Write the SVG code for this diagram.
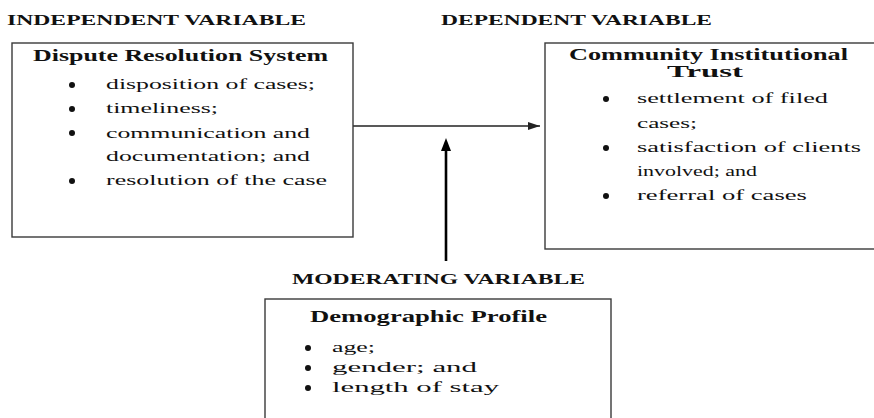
<svg xmlns="http://www.w3.org/2000/svg" width="874" height="418" viewBox="0 0 874 418">
<style>
.box{fill:#fff;stroke:#3a3a3a;stroke-width:1.4}
.hd{font-family:"Liberation Serif","Times New Roman",serif;font-weight:bold;font-size:14px;fill:#111}
.tt{font-family:"Liberation Serif","Times New Roman",serif;font-weight:bold;font-size:16px;fill:#111}
.tx{font-family:"Liberation Serif","Times New Roman",serif;font-size:15.5px;fill:#111}
.bl{fill:#111}
</style>
<defs>
<marker id="ah" markerWidth="12" markerHeight="8" refX="12" refY="4" orient="auto" markerUnits="userSpaceOnUse">
<path d="M0,0 L12,4 L0,8 Z" fill="#222"/>
</marker>
</defs>
<rect width="874" height="418" fill="#fff"/>
<text class="hd" x="7" y="25" textLength="299" lengthAdjust="spacingAndGlyphs">INDEPENDENT VARIABLE</text>
<text class="hd" x="441" y="25" textLength="271" lengthAdjust="spacingAndGlyphs">DEPENDENT VARIABLE</text>
<text class="hd" x="292" y="284" textLength="293" lengthAdjust="spacingAndGlyphs">MODERATING VARIABLE</text>

<g id="connectors">
<line x1="353" y1="126" x2="540" y2="126" stroke="#222" stroke-width="1.4" marker-end="url(#ah)"/>
<line x1="446" y1="261" x2="446" y2="150" stroke="#000" stroke-width="2.6"/>
<path d="M446,138 L451,151 L441,151 Z" fill="#000"/>
</g>

<g id="independent">
<rect class="box" x="12" y="43" width="341" height="194"/>
<text class="tt" x="33" y="61" textLength="295" lengthAdjust="spacingAndGlyphs">Dispute Resolution System</text>
<circle class="bl" cx="72" cy="85" r="3"/>
<text class="tx" x="106" y="89" textLength="209" lengthAdjust="spacingAndGlyphs">disposition of cases;</text>
<circle class="bl" cx="72" cy="109" r="3"/>
<text class="tx" x="106" y="113" textLength="112" lengthAdjust="spacingAndGlyphs">timeliness;</text>
<circle class="bl" cx="72" cy="133" r="3"/>
<text class="tx" x="106" y="138" textLength="204" lengthAdjust="spacingAndGlyphs">communication and</text>
<text class="tx" x="106" y="161" textLength="204" lengthAdjust="spacingAndGlyphs">documentation; and</text>
<circle class="bl" cx="72" cy="181" r="3"/>
<text class="tx" x="106" y="185" textLength="221" lengthAdjust="spacingAndGlyphs">resolution of the case</text>
</g>

<g id="dependent">
<rect class="box" x="545" y="43" width="340" height="206"/>
<text class="tt" x="569" y="60" textLength="279" lengthAdjust="spacingAndGlyphs">Community Institutional</text>
<text class="tt" x="667" y="77" textLength="76" lengthAdjust="spacingAndGlyphs">Trust</text>
<circle class="bl" cx="606" cy="99" r="3"/>
<text class="tx" x="637" y="103" textLength="191" lengthAdjust="spacingAndGlyphs">settlement of filed</text>
<text class="tx" x="637" y="128" textLength="60" lengthAdjust="spacingAndGlyphs">cases;</text>
<circle class="bl" cx="606" cy="148" r="3"/>
<text class="tx" x="637" y="152" textLength="224" lengthAdjust="spacingAndGlyphs">satisfaction of clients</text>
<text class="tx" x="637" y="176" textLength="120" lengthAdjust="spacingAndGlyphs">involved; and</text>
<circle class="bl" cx="606" cy="196" r="3"/>
<text class="tx" x="637" y="200" textLength="170" lengthAdjust="spacingAndGlyphs">referral of cases</text>
</g>

<g id="moderating">
<rect class="box" x="265" y="299" width="346" height="130"/>
<text class="tt" x="310" y="322" textLength="237" lengthAdjust="spacingAndGlyphs">Demographic Profile</text>
<circle class="bl" cx="308" cy="348" r="3"/>
<text class="tx" x="332" y="352" textLength="43" lengthAdjust="spacingAndGlyphs">age;</text>
<circle class="bl" cx="308" cy="368" r="3"/>
<text class="tx" x="332" y="372" textLength="145" lengthAdjust="spacingAndGlyphs">gender; and</text>
<circle class="bl" cx="308" cy="388" r="3"/>
<text class="tx" x="332" y="392" textLength="167" lengthAdjust="spacingAndGlyphs">length of stay</text>
</g>
</svg>
